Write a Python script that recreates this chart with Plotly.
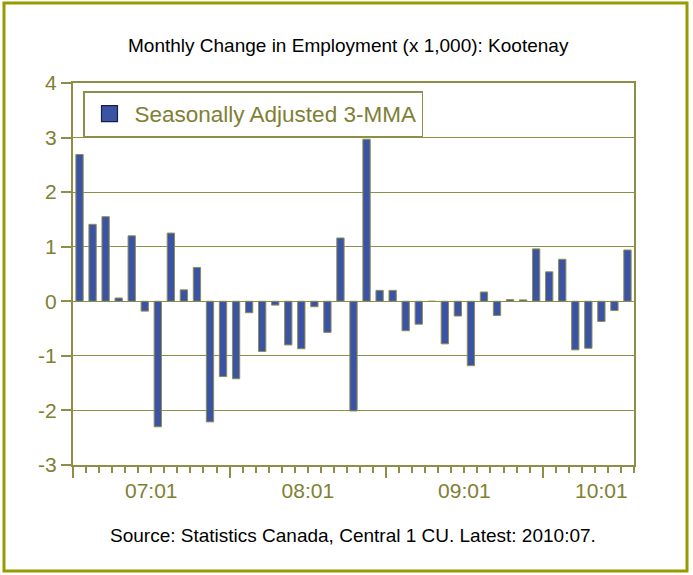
import plotly.graph_objects as go

months = [f"{y:02d}:{m:02d}" for y in range(7, 11) for m in range(1, 13)][:43]
values = [2.69, 1.41, 1.55, 0.06, 1.20, -0.18, -2.30, 1.25, 0.21, 0.62,
          -2.21, -1.38, -1.42, -0.21, -0.92, -0.07, -0.80, -0.87, -0.10, -0.57,
          1.16, -2.01, 2.97, 0.20, 0.20, -0.54, -0.42, 0.0, -0.78, -0.27,
          -1.18, 0.17, -0.26, 0.03, 0.025, 0.96, 0.54, 0.77, -0.89, -0.86,
          -0.37, -0.17, 0.94]
year_labels = ["07:01", "08:01", "09:01", "10:01"]
label_pos = [5.5, 17.5, 29.5, 40.0]
year_bounds = [-0.5, 11.5, 23.5, 35.5]
y_ticks = [-3, -2, -1, 0, 1, 2, 3, 4]
y_ticktext = ["-3", "-2", "-1", "0", "1", "2", "3", "4"]
series_name = "Seasonally Adjusted 3-MMA"

OLIVE = "#808033"
GRID = "#8E8E48"
BLUE = "#3A53A4"
FONT = "Liberation Sans, Arial, sans-serif"

x_idx = list(range(len(values)))

fig = go.Figure()
fig.add_trace(go.Bar(
    x=x_idx, y=values, name=series_name, showlegend=False,
    marker=dict(color=BLUE, line=dict(color="#8E8E50", width=1)),
    width=0.56, customdata=months,
    hovertemplate="%{customdata}: %{y}<extra></extra>",
))
# legend proxy for the bar series
fig.add_trace(go.Scatter(
    x=[None], y=[None], name=series_name, mode="markers",
    marker=dict(symbol="square", size=19, color=BLUE,
                line=dict(color="#1A1F4A", width=1.2)),
    hoverinfo="skip",
))
fig.add_trace(go.Scatter(x=[None], y=[None], xaxis="x2", showlegend=False,
                         hoverinfo="skip"))

W, H = 693, 575
L, R, T, B = 73, 59, 83, 110
pw, ph = W - L - R, H - T - B

def px_x(px):
    return (px - L) / pw

def px_y(py):
    return (H - B - py) / ph

fig.update_layout(
    width=W, height=H,
    margin=dict(l=L, r=R, t=T, b=B, autoexpand=False),
    paper_bgcolor="white", plot_bgcolor="white",
    font=dict(family=FONT, color=OLIVE, size=21),
    showlegend=True,
    legend=dict(
        x=px_x(83), y=px_y(91), xanchor="left", yanchor="top",
        bgcolor="white", bordercolor=GRID, borderwidth=1.5,
        font=dict(family=FONT, size=22.5, color=OLIVE),
        itemwidth=40,
    ),
    xaxis=dict(
        range=[-0.5, 42.5], showgrid=False, zeroline=False,
        showline=True, linecolor=GRID, linewidth=2, mirror=True,
        tickmode="array", tickvals=year_bounds, ticks="outside",
        ticklen=11, tickcolor=GRID, tickwidth=1.5, showticklabels=False,
        minor=dict(tickmode="array",
                   tickvals=[i - 0.5 for i in range(len(values) + 1)],
                   ticks="outside", ticklen=6, tickcolor=GRID, tickwidth=1.5,
                   showgrid=False),
    ),
    xaxis2=dict(
        range=[-0.5, 42.5], overlaying="x", anchor="y", side="bottom",
        showgrid=False, zeroline=False, showline=False,
        tickmode="array", tickvals=label_pos, ticktext=year_labels,
        ticks="", tickfont=dict(family=FONT, size=21, color=OLIVE),
        ticklabelstandoff=11,
    ),
    yaxis=dict(
        range=[-3, 4], tickmode="array", tickvals=y_ticks, ticktext=y_ticktext,
        showgrid=True, gridcolor=GRID, gridwidth=1, zeroline=False,
        showline=True, linecolor=GRID, linewidth=2, mirror=True,
        ticks="outside", ticklen=10, tickcolor=GRID, tickwidth=1.5,
        tickfont=dict(family=FONT, size=21, color=OLIVE),
    ),
    shapes=[dict(type="rect", xref="paper", yref="paper",
                 x0=px_x(4), x1=px_x(687), y0=px_y(571), y1=px_y(3),
                 line=dict(color="#999900", width=3), layer="below")],
    annotations=[
        dict(text="Monthly Change in Employment (x 1,000): Kootenay",
             xref="paper", yref="paper", x=px_x(348), y=px_y(46),
             xanchor="center", yanchor="middle", showarrow=False,
             font=dict(family=FONT, size=19, color="black")),
        dict(text="Source: Statistics Canada, Central 1 CU. Latest: 2010:07.",
             xref="paper", yref="paper", x=px_x(353), y=px_y(535),
             xanchor="center", yanchor="middle", showarrow=False,
             font=dict(family=FONT, size=19, color="black")),
    ],
)

fig.write_html("out.html", config={"displayModeBar": False},
               post_script="document.body.style.margin='0';document.body.style.padding='0';")
